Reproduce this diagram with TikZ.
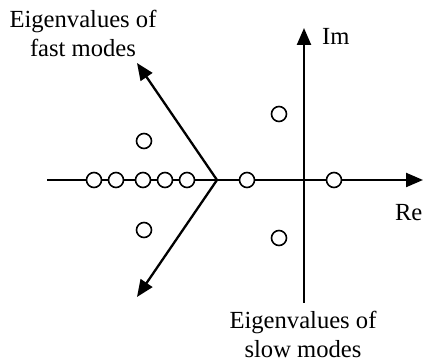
\documentclass[tikz,border=0pt]{standalone}
\usepackage{fontspec}
\setmainfont{Liberation Serif}
\usetikzlibrary{arrows.meta}

\begin{document}
\begin{tikzpicture}[x=0.5pt, y=-0.5pt,
    axis/.style={line width=1.15pt, -{Triangle[length=8.5pt,width=7pt]}},
    eig/.style={circle, draw, fill=white, line width=0.8pt, minimum size=7.5pt, inner sep=0pt},
    lbl/.style={font=\fontsize{12.3}{14.5}\selectfont, align=center}]
    \useasboundingbox (0,0) rectangle (423,362);

    % --- Axes of the complex plane ---
    \coordinate (re0) at (47,180);
    \coordinate (re1) at (423,180);
    \coordinate (im0) at (304,303);
    \coordinate (im1) at (304,28);
    \draw[axis] (re0) -- (re1);
    \draw[axis] (im0) -- (im1);

    % --- Sector bounding the fast modes ---
    \coordinate (apex) at (217,180);
    \coordinate (up) at (137,63);
    \coordinate (dn) at (137,297);
    \draw[axis] (apex) -- (up);
    \draw[axis] (apex) -- (dn);

    % --- Eigenvalues ---
    \foreach \px/\py [count=\i] in {94/180, 116/180, 143/180, 165/180, 187/180,
        247/180, 334/180, 144/141, 144/230, 279/114, 279/238}
        \node[eig] (e\i) at (\px,\py) {};

    % --- Labels ---
    \node[lbl] (fast) at (83,33) {Eigenvalues of\\fast modes};
    \node[lbl] (slow) at (303,334) {Eigenvalues of\\slow modes};
    \node[lbl, anchor=west] (im) at (315,36) {Im};
    \node[lbl, anchor=west] (re) at (388,213) {Re};
\end{tikzpicture}
\end{document}
